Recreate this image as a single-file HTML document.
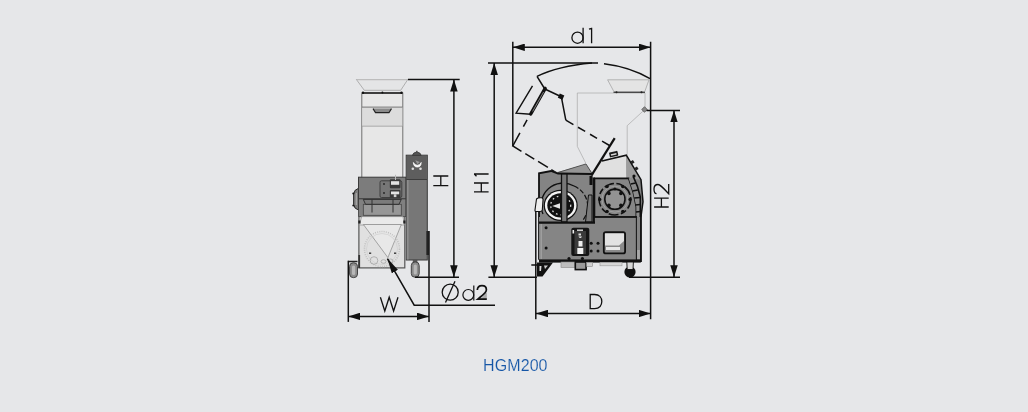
<!DOCTYPE html>
<html><head><meta charset="utf-8">
<style>
html,body{margin:0;padding:0;width:1028px;height:412px;overflow:hidden;background:#e6e7e9;}
svg{position:absolute;left:0;top:0;}
.cap{position:absolute;left:483px;top:357.4px;font-family:"Liberation Sans",sans-serif;font-size:16px;letter-spacing:0.1px;color:#1556a6;white-space:nowrap;will-change:transform;-webkit-text-stroke:0.15px #e6e7e9;}
</style></head><body>
<svg width="1028" height="412" viewBox="0 0 1028 412">
<defs>
<marker id="b" viewBox="0 0 14 8" refX="14" refY="4" markerWidth="15" markerHeight="7" markerUnits="userSpaceOnUse" orient="auto-start-reverse" preserveAspectRatio="none"><path d="M0,0 L14,4 L0,8 Z" fill="#111"/></marker>
<marker id="a" viewBox="0 0 12 8" refX="12" refY="4" markerWidth="12" markerHeight="7.5" markerUnits="userSpaceOnUse" orient="auto-start-reverse" preserveAspectRatio="none"><path d="M0,0 L12,4 L0,8 Z" fill="#111"/></marker>
</defs>
<!-- ============ LEFT MACHINE ============ -->
<g id="left">
  <!-- hopper funnel -->
  <polygon points="356.4,79.5 407.8,79.5 400.7,90.3 364.3,90.3" fill="#e4e5e6" stroke="#9c9c9c" stroke-width="0.75"/>
  <line x1="357" y1="79.7" x2="407" y2="79.7" stroke="#bdbdbd" stroke-width="1.2"/>
  <!-- body upper -->
  <rect x="361.8" y="93" width="41" height="123.5" fill="#e7e7e7" stroke="#707070" stroke-width="1"/>
  <rect x="362.3" y="107.1" width="40" height="19" fill="#dcdcdc"/>
  <line x1="362" y1="107.1" x2="402.5" y2="107.1" stroke="#6a6a6a" stroke-width="0.9"/>
  <line x1="362" y1="126.2" x2="402.5" y2="126.2" stroke="#9a9a9a" stroke-width="0.8"/>
  <line x1="362" y1="93" x2="402.4" y2="93" stroke="#1a1a1a" stroke-width="1.4"/><circle cx="363" cy="92.8" r="1.2" fill="#111"/><circle cx="382.4" cy="92.4" r="1" fill="#111"/><circle cx="401.5" cy="92.8" r="1.2" fill="#111"/>
  <path d="M373,108.6 L375.5,112.6 L389,112.6 L391.5,108.6" fill="#8a8a8a" stroke="#222" stroke-width="1.1"/>
  <!-- gearbox -->
  <path d="M358.6,188.3 Q354.2,189.5 353.6,194 L353.6,204.5 Q354.2,209 358.6,210 Z" fill="#7a7a7a" stroke="#2a2a2a" stroke-width="1"/>
  <path d="M356.3,193 L356.3,205" stroke="#a8a8a8" stroke-width="1.3"/>
  <circle cx="353.3" cy="193.6" r="1" fill="#111"/><circle cx="353.3" cy="205.4" r="1" fill="#111"/>
  <rect x="358.5" y="177.2" width="47.5" height="21.7" fill="#7c7c7c" stroke="#3a3a3a" stroke-width="1"/>
  <rect x="380" y="180.8" width="21.8" height="16.7" rx="1.5" fill="#767676" stroke="#3a3a3a" stroke-width="0.9"/>
  <rect x="389.8" y="179.3" width="10.7" height="9" rx="1" fill="#3a3a3a"/>
  <rect x="391" y="181.2" width="8.2" height="3.6" fill="#e2e2e2"/>
  <line x1="395.5" y1="174.8" x2="395.5" y2="180" stroke="#bbb" stroke-width="1"/>
  <rect x="389.8" y="190" width="10.7" height="8" rx="1" fill="#3a3a3a"/>
  <rect x="391" y="191.5" width="8.2" height="2.8" fill="#e2e2e2"/>
  <rect x="393.8" y="194.3" width="2.6" height="2.8" fill="#cfcfcf"/>
  <circle cx="384" cy="184" r="0.9" fill="#222"/><circle cx="384" cy="193" r="0.9" fill="#222"/>
  <rect x="358.5" y="198.9" width="47.5" height="17.7" fill="#808080" stroke="#3a3a3a" stroke-width="0.8"/>
  <rect x="363.3" y="204.3" width="38" height="11" fill="#979797" stroke="#444" stroke-width="0.8"/>
  <polygon points="363.3,199.4 401.3,199.4 399,204.3 365.5,204.3" fill="#7b7b7b" stroke="#2a2a2a" stroke-width="0.9"/>
  <line x1="372" y1="199.5" x2="372" y2="212.5" stroke="#333" stroke-width="1"/>
  <line x1="393" y1="199.5" x2="393" y2="212.5" stroke="#333" stroke-width="1"/>
  <!-- lower hopper box -->
  <rect x="358.9" y="216.6" width="45.9" height="51.3" fill="#e0e0e0" stroke="#555" stroke-width="1.2"/>
  <polygon points="361.6,216.6 403,216.6 404.3,225 359.5,225" fill="#eaeaea" stroke="#8a8a8a" stroke-width="0.7"/>
  <rect x="358.3" y="220.5" width="2.2" height="3" fill="#222"/><rect x="403.3" y="220.5" width="2.2" height="3" fill="#222"/>
  <polygon points="363.4,224.5 401.3,224.5 387.9,257.6" fill="#e8e8e8" stroke="#777" stroke-width="0.6"/>
  <circle cx="382" cy="249" r="17.5" fill="none" stroke="#c2c2c2" stroke-width="1.6" stroke-dasharray="1,1.2"/>
  <circle cx="382" cy="249" r="15.5" fill="none" stroke="#cfcfcf" stroke-width="0.7"/>
  <circle cx="374" cy="260.5" r="3.8" fill="none" stroke="#a5a5a5" stroke-width="0.8"/>
  <ellipse cx="383.5" cy="261.5" rx="2.5" ry="1.8" fill="none" stroke="#a5a5a5" stroke-width="0.8"/>
  <ellipse cx="390.5" cy="261" rx="2.5" ry="2" fill="none" stroke="#a5a5a5" stroke-width="0.8"/>
  <rect x="369" y="252.5" width="2.2" height="1.4" fill="#333"/><rect x="394" y="252.5" width="2.2" height="1.4" fill="#333"/>
  <rect x="358.3" y="255" width="1.8" height="13" fill="#333"/>
  <!-- control column -->
  <rect x="406.2" y="155.2" width="21.1" height="104.8" fill="#777" stroke="#3a3a3a" stroke-width="1"/>
  <rect x="406.7" y="155.7" width="20.1" height="24" fill="#5e5e5e"/>
  <rect x="406.8" y="180" width="1.8" height="79.5" fill="#8e8e8e"/>
  <line x1="406.5" y1="179.5" x2="427" y2="179.5" stroke="#333" stroke-width="0.8"/>
  <path d="M412.4,155.4 Q413,152.3 416.8,152 Q420.6,152.3 421.2,155.4 Z" fill="#555" stroke="#333" stroke-width="0.7"/><rect x="416" y="150.8" width="1.6" height="1.5" fill="#555"/>
  <path d="M413.4,162.5 Q413.6,167 417.3,167 Q421,167 421.2,162.5 Q420,165.3 417.3,165.3 Q414.6,165.3 413.4,162.5 Z" fill="#fff" stroke="#fff" stroke-width="0.8"/>
  <path d="M415.3,160.3 L419.8,162 L417.5,164.3 Z" fill="#999"/>
  <circle cx="412.8" cy="168.8" r="1.3" fill="#ddd"/>
  <circle cx="420.5" cy="168.8" r="1.3" fill="#ddd"/>
  <rect x="426.4" y="231" width="2.4" height="24" fill="#222"/>
  <!-- casters -->
  <line x1="348.3" y1="261.5" x2="357.5" y2="261.5" stroke="#222" stroke-width="1.5"/>
  <rect x="349.6" y="262.8" width="7.9" height="14.8" rx="3.6" fill="#8c8c8c" stroke="#444" stroke-width="1"/>
  <rect x="352" y="265.5" width="3.2" height="9.5" rx="1.6" fill="#b8b8b8"/>
  <rect x="412.8" y="259.5" width="4.6" height="3" fill="#555"/>
  <rect x="411.3" y="262" width="7.9" height="15.2" rx="3.6" fill="#8c8c8c" stroke="#444" stroke-width="1"/>
  <rect x="413.7" y="264.5" width="3.2" height="10" rx="1.6" fill="#b8b8b8"/>
</g>

<!-- ============ RIGHT MACHINE ============ -->
<g id="right">
  <!-- thin hopper outline -->
  <polyline points="585.7,163 577.3,146.4 577.3,93 645,93 645,109.3 627.2,125.7 627.2,155" fill="none" stroke="#a4a4a4" stroke-width="0.65"/>
  <polygon points="607.6,79.8 649,79.8 644.7,91.8 614,91.8" fill="#e4e4e4" stroke="#a6a6a6" stroke-width="0.8"/>
  <line x1="613.5" y1="92.3" x2="645" y2="92.3" stroke="#333" stroke-width="1.1"/><circle cx="616.5" cy="92.3" r="1" fill="#222"/><circle cx="641.5" cy="92.3" r="1" fill="#222"/>
  <rect x="642.5" y="107.5" width="4" height="4" transform="rotate(45 644.5 109.5)" fill="#888" stroke="#444" stroke-width="0.6"/>
  <!-- open lid -->
  <path d="M537,76.4 Q558,66 592,63" fill="none" stroke="#111" stroke-width="1.5"/>
  <path d="M604,63.8 Q630,67 650,78.7" fill="none" stroke="#111" stroke-width="1.5"/>
  <polyline points="537,76.4 544.8,89 561.3,96.7 565.8,120.2" fill="none" stroke="#111" stroke-width="1.5" stroke-linejoin="round"/>
  <rect x="558.6" y="94.3" width="5" height="4.6" fill="#111" transform="rotate(25 561 96.6)"/>
  <line x1="545.2" y1="88.4" x2="530.7" y2="114" stroke="#111" stroke-width="3.4" stroke-linecap="round"/>
  <line x1="543.6" y1="92" x2="532.6" y2="111.4" stroke="#b0b0b0" stroke-width="0.7"/>
  <polyline points="532.5,85.8 516.1,113.1 530.7,114.3" fill="none" stroke="#111" stroke-width="1.4"/>
  <path d="M530.2,114.2 L512.8,146 L557.4,173.3" fill="none" stroke="#111" stroke-width="1.5" stroke-dasharray="0,6.5,7.7,7.2,25,4.5,10.5,4.5,11.5,4,12"/>
  <path d="M565.8,120.2 L609.5,145.5" fill="none" stroke="#111" stroke-width="1.5" stroke-dasharray="8.8,5.3,8.3,5.6,8.1,5.8,9"/>
  <!-- body -->
  <polygon points="539,173.3 551,171 558,172 586,163.9 592,172.8 602,161 626.3,155.2 641,179.7 643,201.8 640.8,218 640.8,259.7 539,259.7" fill="#848484"/>
  <polygon points="558,172.5 586,163.9 592,173.5" fill="#959595" stroke="#333" stroke-width="0.7"/>
  <polygon points="591,174 602,161 626.3,155.2 626.5,178 593,178" fill="#e0e0e0"/>
  <polygon points="626.3,155.2 641,179.7 626.5,178" fill="#9d9d9d"/>
  <polyline points="539,259.7 539,173.3 551,171 558,173.7 592,174" fill="none" stroke="#111" stroke-width="1.8"/>
  <polyline points="602,161 626.3,155.2 641,179.7 643,201.8 640.8,218 640.8,262" fill="none" stroke="#111" stroke-width="1.5"/>
  <g fill="#222"><rect x="631" y="160.5" width="3" height="3" transform="rotate(57 632.5 162)"/><rect x="635" y="167" width="3" height="3" transform="rotate(57 636.5 168.5)"/></g>
  <line x1="614.7" y1="138.2" x2="591.4" y2="175.6" stroke="#111" stroke-width="2.2"/>
  <g transform="rotate(-13 614 156)"><rect x="609.8" y="151.6" width="8.6" height="5" rx="0.8" fill="#1a1a1a"/><rect x="611.3" y="153.6" width="5.6" height="1.5" fill="#d8d8d8"/></g>
  <rect x="539" y="217" width="101.8" height="42.7" fill="#858585" />
  <rect x="540.6" y="224" width="1.2" height="35" fill="#a5a5a5"/>
  <!-- left rotor module -->
  <circle cx="564.5" cy="206" r="22" fill="#858585"/>
  <path d="M543,214 A22,22 0 0 1 574,186" fill="none" stroke="#111" stroke-width="1.3"/>
  <path d="M574,186 A22,22 0 0 1 583,220" fill="none" stroke="#111" stroke-width="1.2" stroke-dasharray="5,2"/>
  <ellipse cx="560.7" cy="205.4" rx="17" ry="15.6" fill="#111"/>
  <ellipse cx="560.7" cy="205.4" rx="15.8" ry="14.4" fill="#f4f4f4"/>
  <ellipse cx="560.7" cy="205.4" rx="13.4" ry="12.2" fill="#111"/>
  <ellipse cx="560.7" cy="205.4" rx="10" ry="9.4" fill="none" stroke="#d8d8d8" stroke-width="1.3" stroke-dasharray="1.6,3"/>
  <polygon points="552.2,206 560,203.3 560,208.7" fill="#e6e6e6"/>
  <rect x="561.5" y="174" width="5.5" height="48" fill="#777" stroke="#111" stroke-width="1.3"/>
  <path d="M536.5,199 Q538,197.5 541.5,197.8 Q543.3,198 543,200 L542.3,210 Q542,211.5 540,211.5 L536,211.5 Q534.8,211.5 535,210 Z" fill="#eee" stroke="#111" stroke-width="1.1"/>
  <polygon points="585.5,222 588.5,195 592,195 592,222" fill="#7a7a7a" stroke="#111" stroke-width="1"/>
  <rect x="589.5" y="176" width="3" height="9" fill="#111"/>
  <line x1="539" y1="222.6" x2="595" y2="222.6" stroke="#111" stroke-width="2.4"/>
  <!-- right module -->
  <path d="M594.5,178.4 H628.7 Q634,192 636.3,207 V217 H594.5 Z" fill="#868686" stroke="#111" stroke-width="1.6"/>
  <line x1="593.8" y1="177.5" x2="593.8" y2="222.5" stroke="#111" stroke-width="2.2"/>
  <circle cx="614.9" cy="199.2" r="13" fill="none" stroke="#a0a0a0" stroke-width="1"/>
  <circle cx="614.9" cy="199.2" r="15.8" fill="none" stroke="#111" stroke-width="1.6" stroke-dasharray="10,2.5,6,2.5"/>
  <circle cx="614.9" cy="199.2" r="10.1" fill="#939393" stroke="#111" stroke-width="1.6"/>
  <g fill="#111">
    <circle cx="608.9" cy="193.4" r="1.8"/><circle cx="620.9" cy="193.4" r="1.8"/><circle cx="608.9" cy="205.4" r="1.8"/><circle cx="620.9" cy="205.4" r="1.8"/><circle cx="614.9" cy="189" r="1.5"/>
    <circle cx="607.1" cy="186.5" r="1.7"/><circle cx="622.8" cy="186.5" r="1.7"/><circle cx="599.7" cy="199.4" r="1.7"/><circle cx="630.1" cy="199.4" r="1.7"/><circle cx="607.1" cy="211.5" r="1.7"/><circle cx="622.8" cy="211.5" r="1.7"/>
  </g>
  <path d="M628.7,178.4 Q634,192 636.3,207 V217 H640.8 V197 Q638,186 633.3,176.7 Z" fill="#8c8c8c"/>
  <path d="M633.3,176.7 Q638,186 640.3,197 V217" fill="none" stroke="#111" stroke-width="1.6"/>
  <path d="M630.8,184 L635.5,183 M632.6,191 L637.8,190 M634.2,198 L640,197.5 M635.3,205 L640.3,204.5 M636,212 L640.5,211.5" stroke="#111" stroke-width="1.5"/>
  <circle cx="634" cy="176" r="1.6" fill="#111"/>
  <!-- lower panel -->
  <line x1="594" y1="216.8" x2="637" y2="216.8" stroke="#111" stroke-width="1.3"/>
  <line x1="636.4" y1="216" x2="636.4" y2="260" stroke="#1a1a1a" stroke-width="1.1"/>
  <rect x="637.1" y="250" width="2.8" height="9" fill="#a8a8a8"/>
  <line x1="640.9" y1="210" x2="640.9" y2="262" stroke="#111" stroke-width="1.7"/>
  <circle cx="546.1" cy="227.7" r="1.5" fill="#111"/>
  <circle cx="546.1" cy="248.1" r="1.5" fill="#111"/>
  <rect x="571.3" y="227.8" width="18" height="28.2" rx="2" fill="#151515"/>
  <rect x="574.5" y="231" width="11.5" height="23" fill="#3a3a3a"/>
  <rect x="572.5" y="230" width="1.6" height="3.5" fill="#eee"/>
  <rect x="577" y="229.5" width="6" height="1.4" fill="#ddd"/>
  <rect x="578.5" y="233.5" width="2.5" height="2" fill="#ddd"/>
  <path d="M578.5,236.5 A1.8,1.8 0 0 0 582,236.5" fill="#eee"/>
  <rect x="578.5" y="241" width="4" height="5.5" fill="#eee"/>
  <rect x="577.3" y="248" width="6" height="6" fill="#f2f2f2"/>
  <g fill="#111"><circle cx="591.2" cy="243.2" r="1.5"/><circle cx="598" cy="243.2" r="1.5"/><circle cx="591.2" cy="251.1" r="1.5"/><circle cx="598" cy="251.1" r="1.5"/></g>
  <rect x="603.8" y="232.1" width="21.3" height="21.3" rx="2" fill="#8a8a8a" stroke="#111" stroke-width="1.8"/>
  <polygon points="605,233.5 624,233.5 624,241 619,245.5 605,245.5" fill="#e2e2e2"/>
  <rect x="606" y="247" width="14" height="3" fill="#e8e8e8"/>
  <rect x="539" y="259.4" width="101.8" height="3.2" fill="#111"/>
  <rect x="561" y="262" width="14" height="5.5" fill="#bdbdbd" stroke="#888" stroke-width="0.6"/>
  <rect x="575.3" y="262" width="10.8" height="7.6" fill="#9a9a9a" stroke="#111" stroke-width="1.6"/>
  <rect x="586.5" y="262.3" width="6" height="4" fill="#d0d0d0" stroke="#888" stroke-width="0.6"/>
  <rect x="600" y="262.3" width="22" height="3.5" fill="#d6d6d6" stroke="#999" stroke-width="0.6"/>
  <circle cx="569" cy="258.5" r="1.6" fill="#111"/><circle cx="582.4" cy="258.5" r="1.6" fill="#111"/>
  <!-- casters -->
  <path d="M537,262.6 L553,262.6 L542.5,276.5 L537,276.5 Z" fill="#111"/>
  <path d="M539.5,266 L541.5,266 L541,271 L539.5,271 Z" fill="#ddd"/>
  <path d="M544,265.5 L548,265.5 L545,269 Z" fill="#ccc"/>
  <line x1="531.3" y1="265" x2="539" y2="265" stroke="#111" stroke-width="1.5"/>
  <circle cx="630" cy="272" r="5.6" fill="#111"/>
  <path d="M626.8,262 L633.4,262 L633,269.5 L627.2,269.5 Z" fill="#d8d8d8" stroke="#111" stroke-width="0.9"/>
</g>

<!-- ============ DIMENSIONS ============ -->
<g stroke="#111" stroke-width="1.5" fill="none">
  <!-- H -->
  <line x1="408" y1="79.5" x2="459.7" y2="79.5"/>
  <line x1="415" y1="277.2" x2="459" y2="277.2"/>
  <line x1="453.9" y1="79.5" x2="453.9" y2="277.2" marker-start="url(#a)" marker-end="url(#a)"/>
  <!-- H1 -->
  <line x1="488" y1="63" x2="598" y2="63"/>
  <line x1="488.4" y1="277.2" x2="537" y2="277.2"/>
  <line x1="494.2" y1="63" x2="494.2" y2="277.2" marker-start="url(#a)" marker-end="url(#a)"/>
  <!-- d1 -->
  <line x1="512.8" y1="41.7" x2="512.8" y2="146"/>
  <line x1="650.6" y1="41.7" x2="650.6" y2="319.2"/>
  <line x1="512.8" y1="47.3" x2="650.6" y2="47.3" marker-start="url(#a)" marker-end="url(#a)"/>
  <!-- D -->
  <line x1="535.8" y1="211" x2="535.8" y2="319.2"/>
  <line x1="536" y1="313.5" x2="650.6" y2="313.5" marker-start="url(#a)" marker-end="url(#a)"/>
  <!-- H2 -->
  <line x1="646.5" y1="110.4" x2="680" y2="110.4"/>
  <line x1="629" y1="277.2" x2="680" y2="277.2"/>
  <line x1="674" y1="110.4" x2="674" y2="277.2" marker-start="url(#a)" marker-end="url(#a)"/>
  <!-- W -->
  <line x1="348.3" y1="260.7" x2="348.3" y2="321.9"/>
  <line x1="429" y1="231" x2="429" y2="321.9"/>
  <line x1="348.3" y1="316.4" x2="429" y2="316.4" marker-start="url(#a)" marker-end="url(#a)"/>
  <!-- d2 leader -->
  <polyline points="387.4,258.6 414.2,305.2 495,305.2" marker-start="url(#b)"/>
</g>
<!-- ============ LABELS ============ -->
<g stroke="#111" stroke-width="1.3" fill="none" stroke-linecap="butt">
  <path d="M433.3,176 H448.3 M433.3,185.7 H448.3 M440.8,176 V185.7"/>
  <path d="M474,183 H488.6 M474,191.8 H488.6 M481.3,183 V191.8"/>
  <path d="M474,174 H488.6 M474.3,174 L476.5,176.3"/>
  <path d="M654.1,198.2 H668.7 M654.1,207 H668.7 M661.4,198.2 V207"/>
  <path d="M656.5,193.7 C654.5,193.7 654,191.5 654,189 C654,186.5 655.5,184.5 658,184.5 C660,184.5 661.5,186 668.7,193.7 V184"/>
  <circle cx="577.5" cy="37.7" r="5.6"/>
  <path d="M583.1,27.8 V43.3"/>
  <path d="M591.6,27.8 V43.3 M591.8,28.3 L589,29.2"/>
  <path d="M590.2,294.5 V308.6 H594.6 C599.6,308.6 601.8,305.2 601.8,301.55 C601.8,297.9 599.6,294.5 594.6,294.5 Z"/>
  <path d="M380.4,297.2 L384.8,311 L389.2,297.2 L393.6,311 L398,297.2"/>
  <circle cx="450.2" cy="292.2" r="8"/>
  <path d="M455,281.3 L445.5,302.4"/>
  <circle cx="468.3" cy="294.9" r="5.4" stroke-width="1.2"/>
  <path d="M473.8,285.5 V300.4" stroke-width="1.2"/>
  <polygon points="480.5,299.3 486.8,292.5 486.8,299.3" fill="#a9a9a9" stroke="none"/>
  <path d="M477.3,290 C477.5,287.2 479.5,285.6 482,285.6 C484.8,285.6 486.4,287.3 486.4,289.8 C486.4,291.8 485.5,293 477.8,299.2 H486.8" stroke-width="1.7"/>
</g>
</svg>
<div class="cap">HGM200</div>
</body></html>
